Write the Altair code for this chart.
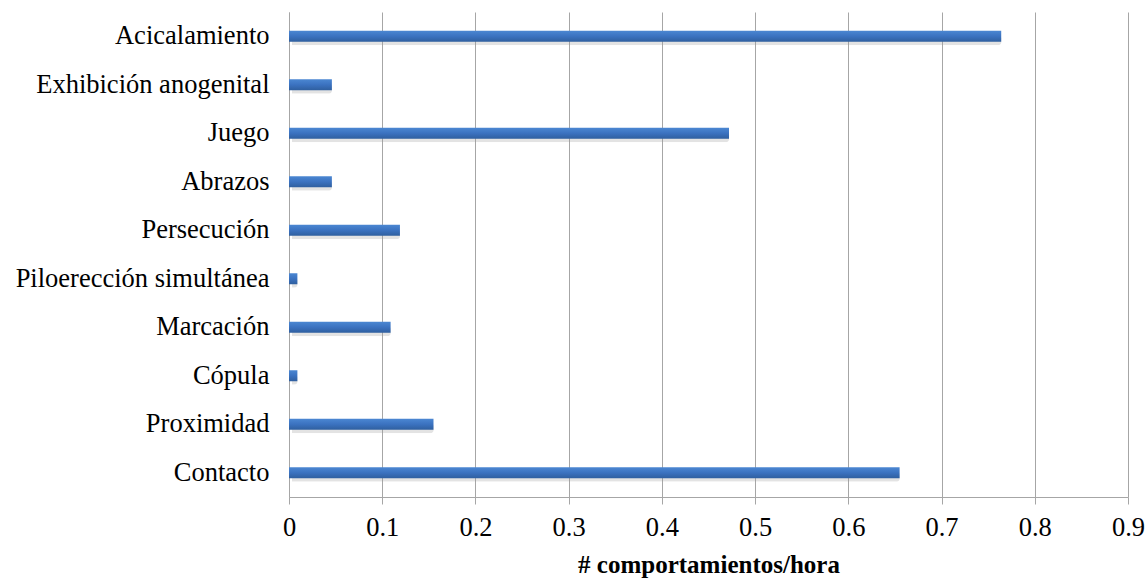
import altair as alt
import pandas as pd

categories = ["Acicalamiento", "Exhibición anogenital", "Juego", "Abrazos", "Persecución",
              "Piloerección simultánea", "Marcación", "Cópula", "Proximidad", "Contacto"]
values = [0.764, 0.046, 0.472, 0.046, 0.119, 0.009, 0.109, 0.009, 0.155, 0.655]
tick_values = [0, 0.1, 0.2, 0.3, 0.4, 0.5, 0.6, 0.7, 0.8, 0.9]

df = pd.DataFrame({"cat": categories, "val": values})

FONT = "'Times New Roman', 'Liberation Serif', serif"
GRID = "#a6a6a6"

x_enc = alt.X("val:Q", scale=alt.Scale(domain=[0, 0.9], nice=False),
              axis=alt.Axis(values=tick_values, format=".1~f", title="# comportamientos/hora",
                            grid=True, labelFlush=False))
y_enc = alt.Y("cat:N", sort=categories,
              scale=alt.Scale(paddingInner=0, paddingOuter=0),
              axis=alt.Axis(title=None, ticks=False, grid=False, labelPadding=20, labelLimit=400))

shadow = alt.Chart(df).mark_bar(size=10, color="#9a9a9a", opacity=0.28,
                                xOffset=3, yOffset=4, cornerRadius=3).encode(x=x_enc, y=y_enc)

grad = alt.LinearGradient(gradient="linear", x1=0, y1=0, x2=0, y2=1,
                          stops=[alt.GradientStop(color="#4b87d2", offset=0),
                                 alt.GradientStop(color="#3b72c0", offset=0.5),
                                 alt.GradientStop(color="#2f5f9f", offset=1)])
bars = alt.Chart(df).mark_bar(size=11, color=grad).encode(x=x_enc, y=y_enc)

chart = alt.layer(shadow, bars).properties(
    width=839, height=485,
    autosize=alt.AutoSizeParams(type="none"),
    padding={"left": 289, "top": 12, "right": 20, "bottom": 83},
    background="white",
).configure(font=FONT).configure_view(stroke=None).configure_axis(
    labelFont=FONT, labelFontSize=26.5, labelColor="#000000",
    titleFont=FONT, titleFontSize=25, titleFontWeight="bold", titleColor="#000000",
    gridColor=GRID, gridWidth=1, domainColor=GRID, tickColor=GRID,
).configure_axisX(
    tickSize=7, labelPadding=10, titlePadding=12,
)

chart.save("out.html", embed_options={"renderer": "svg", "actions": False})
